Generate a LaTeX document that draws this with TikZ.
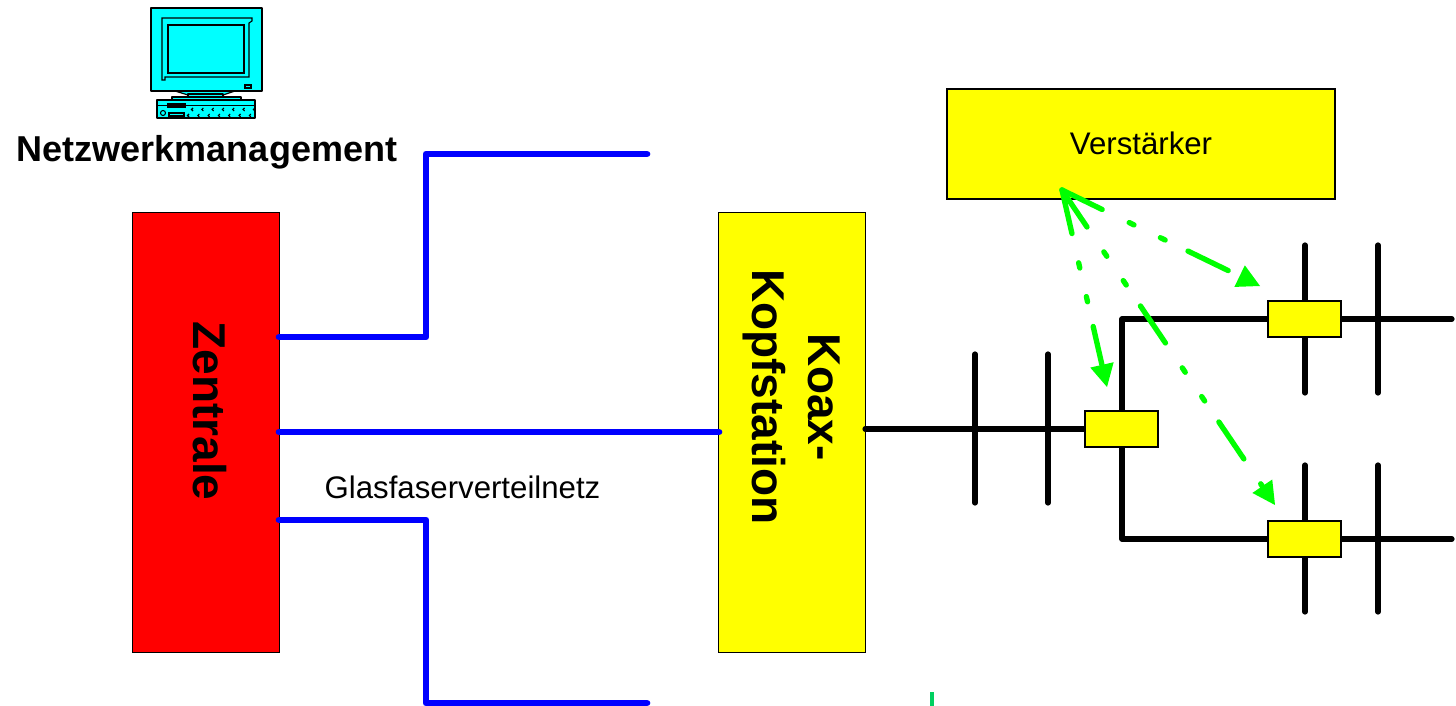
\documentclass[tikz,border=0pt]{standalone}
\usepackage{fontspec}
\setmainfont{Liberation Sans}
\usetikzlibrary{arrows.meta}
\definecolor{cyanfill}{RGB}{0,255,255}
\definecolor{greenline}{RGB}{0,255,0}
\definecolor{tickgreen}{RGB}{0,208,96}
\definecolor{boxyellow}{RGB}{255,255,0}
\definecolor{boxred}{RGB}{255,0,0}
\definecolor{fibreblue}{RGB}{0,0,255}
\tikzset{
  x=0.75pt,y=-0.75pt,
  box/.style={draw=black,line width=1.1pt,inner sep=0pt,outer sep=0pt},
  redbox/.style={box,fill=boxred,minimum width=110.25pt,minimum height=330pt},
  koaxbox/.style={box,fill=boxyellow,minimum width=110.25pt,minimum height=330pt},
  ampbox/.style={box,fill=boxyellow,minimum width=291pt,minimum height=82.5pt},
  tapbox/.style={box,fill=boxyellow,minimum width=55pt,minimum height=27pt},
  fibre/.style={draw=fibreblue,line width=5pt,line cap=round,line join=round},
  coax/.style={draw=black,line width=3.9pt,line cap=round,line join=round},
  signal/.style={draw=greenline,line width=4pt,line cap=round,
    dash pattern=on 33.5pt off 22.5pt on 4pt off 22pt on 4pt off 19pt,
    -{Triangle[length=17pt,width=18pt,line width=0pt,fill=greenline]}},
  bigtext/.style={font=\bfseries\fontsize{27}{33}\selectfont,inner sep=0pt},
  rottext/.style={font=\bfseries\fontsize{34.5}{42}\selectfont,inner sep=0pt},
  smalltext/.style={font=\fontsize{23.4}{28}\selectfont,inner sep=0pt},
  pc/.style={draw=black,line width=0.9pt,fill=cyanfill,line join=round},
  pcline/.style={draw=black,line width=0.8pt},
}
\begin{document}
\begin{tikzpicture}
\useasboundingbox (0,0) rectangle (1456,706);
% computer
\draw[pc] (175,91) -- (235,91) -- (223,95) -- (188,95) -- cycle;
\draw[pc] (188,94) rectangle (223,97);
\draw[pc] (172,97) rectangle (241,100);
\draw[pc] (151,8) rectangle (262,91);
\draw[pcline] (162,18) -- (252,18) -- (252,21) -- (249,23) -- (249,77) -- (165,77) -- (165,80) -- (162,80) -- cycle;
\draw[pcline] (168,25) rectangle (244,73);
\draw[pcline] (245,85) rectangle (251,88);
\draw[pc] (157,100) rectangle (255,118);
\draw[pcline] (157,105.5) -- (255,105.5);
\draw[pcline] (168,104) rectangle (185,107);
\draw[pcline] (169,113) rectangle (184,116);
\draw[pcline] (163,113) circle (2.5);
\foreach \k in {0,...,6}{
  \draw[pcline] (193+\k*10.3,108) -- (191.5+\k*10.3,109.5) -- (193+\k*10.3,111);
  \draw[pcline] (189+\k*10.3,114) -- (187.5+\k*10.3,115.5) -- (189+\k*10.3,117);
}
\node[bigtext,anchor=center] (nm) at (207,152) {Netzwerkmanagement};
% boxes
\node[redbox] (zentrale) at (206,432.5) {};
\node[koaxbox] (koax) at (792,432.5) {};
\node[ampbox] (amp) at (1141,144) {};
\node[rottext,rotate=-90] (zt) at (210,411) {Zentrale};
\node[rottext,rotate=-90,align=center] (kt) at (791.5,397) {Koax-\\Kopfstation};
\node[smalltext] (vt) at (1141,143) {Verstärker};
\node[smalltext] (gt) at (462.5,487) {Glasfaserverteilnetz};
% fibre
\coordinate (f1a) at (279,337); \coordinate (f1b) at (647,154);
\coordinate (f2a) at (279,432); \coordinate (f2b) at (719,432);
\coordinate (f3a) at (279,520); \coordinate (f3b) at (647,703);
\coordinate (fx) at (426,0);
\draw[fibre] (f1a) -- (f1a -| fx) -- (f1b -| fx) -- (f1b);
\draw[fibre] (f2a) -- (f2b);
\draw[fibre] (f3a) -- (f3a -| fx) -- (f3b -| fx) -- (f3b);
% coax
\coordinate (ka) at (865,429);
\coordinate (b1t) at (1122,319); \coordinate (b2b) at (1122,539);
\coordinate (e1) at (1452,319); \coordinate (e2) at (1452,539);
\draw[coax] (ka) -- (1122,429);
\draw[coax] (1122,429) -- (b1t) -- (e1);
\draw[coax] (1122,429) -- (b2b) -- (e2);
\foreach \xx/\ya/\yb in {975/354/503,1048/354/503,1305/245/393,1378/245/393,1305/465/612,1378/465/612}{
  \draw[coax] (\xx,\ya) -- (\xx,\yb);
}
\node[tapbox] (tapa) at (1121.5,429) {};
\node[tapbox] (tapb) at (1304.5,319) {};
\node[tapbox] (tapc) at (1304.5,539) {};
% signals
\coordinate (src) at (1062,190);
\coordinate (ta) at (1260,286);
\coordinate (tb) at (1107,387);
\coordinate (tc) at (1275,505);
\draw[signal] (src) -- (ta);
\draw[signal] (src) -- (tb);
\draw[signal] (src) -- (tc);
% tick
\coordinate (ticka) at (932,692); \coordinate (tickb) at (932,706);
\draw[draw=tickgreen,line width=3pt] (ticka) -- (tickb);
\end{tikzpicture}
\end{document}
